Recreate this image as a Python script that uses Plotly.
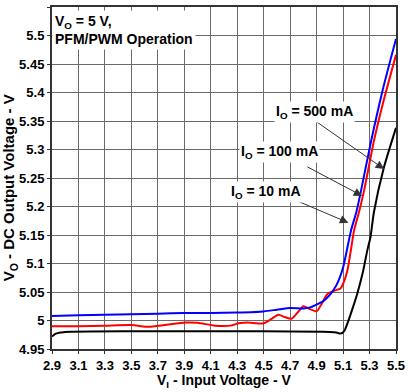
import plotly.graph_objects as go

# 10 mA (blue)
x_10 = [2.9, 3.1, 3.3, 3.5, 3.7, 3.9, 4.1, 4.3, 4.5, 4.6, 4.7, 4.8, 4.85, 4.9, 4.95, 5.0, 5.05, 5.1, 5.16, 5.2, 5.235, 5.312, 5.4, 5.5]
v_10 = [5.008, 5.009, 5.010, 5.011, 5.012, 5.013, 5.013, 5.014, 5.016, 5.019, 5.022, 5.021, 5.023, 5.028, 5.034, 5.045, 5.062, 5.093, 5.158, 5.19, 5.227, 5.315, 5.405, 5.494]

# 100 mA (red)
x_100 = [2.9, 3.1, 3.3, 3.5, 3.63, 3.75, 3.91, 4.0, 4.13, 4.25, 4.31, 4.38, 4.45, 4.5, 4.56, 4.61, 4.66, 4.71, 4.76, 4.8, 4.85, 4.9, 4.94, 4.98, 5.03, 5.08, 5.11, 5.133, 5.16, 5.183, 5.22, 5.258, 5.333, 5.4, 5.5]
v_100 = [4.990, 4.990, 4.991, 4.992, 4.989, 4.992, 4.9965, 4.996, 4.991, 4.991, 4.995, 4.9965, 4.995, 4.995, 5.003, 5.010, 5.006, 5.003, 5.015, 5.025, 5.020, 5.016, 5.030, 5.046, 5.052, 5.056, 5.070, 5.088, 5.125, 5.158, 5.19, 5.227, 5.315, 5.38, 5.466]

# 500 mA (black)
x_500 = [2.9, 2.93, 2.97, 3.0, 3.5, 4.0, 4.5, 5.0, 5.05, 5.08, 5.11, 5.133, 5.17, 5.207, 5.25, 5.283, 5.307, 5.333, 5.408, 5.5]
v_500 = [4.972, 4.977, 4.979, 4.980, 4.981, 4.981, 4.981, 4.980, 4.979, 4.977, 4.982, 4.995, 5.02, 5.047, 5.085, 5.123, 5.146, 5.19, 5.268, 5.338]

x_ticks = [2.9, 3.1, 3.3, 3.5, 3.7, 3.9, 4.1, 4.3, 4.5, 4.7, 4.9, 5.1, 5.3, 5.5]
x_tick_text = ["2.9", "3.1", "3.3", "3.5", "3.7", "3.9", "4.1", "4.3", "4.5", "4.7", "4.9", "5.1", "5.3", "5.5"]
y_ticks = [4.95, 5.0, 5.05, 5.1, 5.15, 5.2, 5.25, 5.3, 5.35, 5.4, 5.45, 5.5, 5.55]
y_tick_text = ["4.95", "5", "5.05", "5.1", "5.15", "5.2", "5.25", "5.3", "5.35", "5.4", "5.45", "5.5", "5.55"]

# annotation labels: text, arrow tip (x, y), arrow tail (x, y), label centre (x, y)
labels = [
    ("I<sub>O</sub> = 500 mA", 5.410, 5.2657, 4.894, 5.3495, 4.886, 5.366),
    ("I<sub>O</sub> = 100 mA", 5.245, 5.2186, 4.818, 5.271, 4.623, 5.296),
    ("I<sub>O</sub> = 10 mA", 5.140, 5.1715, 4.721, 5.213, 4.518, 5.226),
]

FONT = "Liberation Sans, Arial, sans-serif"

fig = go.Figure()
for xs, ys, col in [(x_500, v_500, "#000000"), (x_100, v_100, "#ff0000"), (x_10, v_10, "#0000ff")]:
    fig.add_trace(go.Scatter(x=xs, y=ys, mode="lines",
                             line=dict(color=col, width=2, shape="spline", smoothing=0.6),
                             showlegend=False, hoverinfo="skip"))

axis_common = dict(showgrid=True, gridcolor="#6a6a6a", gridwidth=1, showline=True,
                   linecolor="#333333", linewidth=2, mirror=True, ticks="outside",
                   ticklen=3, tickcolor="#333333", zeroline=False,
                   tickfont=dict(family=FONT, size=13, color="#000", weight="bold"))

fig.update_xaxes(range=[2.9, 5.5], tickmode="array", tickvals=x_ticks, ticktext=x_tick_text,
                 **axis_common)
fig.update_yaxes(range=[4.95, 5.55], tickmode="array", tickvals=y_ticks, ticktext=y_tick_text,
                 **axis_common)

ann_font = dict(family=FONT, size=14, color="#000", weight="bold")
for txt, tx, ty, ax_, ay_, lx, ly in labels:
    fig.add_annotation(x=tx, y=ty, ax=ax_, ay=ay_, axref="x", ayref="y", xref="x", yref="y",
                       text="", showarrow=True, arrowhead=2, arrowsize=1.7, arrowwidth=1,
                       arrowcolor="#333333")
    fig.add_annotation(x=lx, y=ly, xref="x", yref="y", text=txt, showarrow=False,
                       font=ann_font, bgcolor="white", borderpad=1)

fig.add_annotation(xref="paper", yref="paper", x=0.0, y=0.99, xanchor="left", yanchor="top",
                   text="V<sub>O</sub> = 5 V,<br>PFM/PWM Operation", showarrow=False, align="left",
                   font=ann_font, bgcolor="white", borderpad=2)

# axis titles
fig.add_annotation(xref="paper", yref="paper", x=0.5, y=-0.094, xanchor="center", yanchor="middle",
                   text="V<sub>I</sub> - Input Voltage - V", showarrow=False,
                   font=dict(family=FONT, size=14, color="#000", weight="bold"))
fig.add_annotation(xref="paper", yref="paper", x=-0.121, y=0.471, xanchor="center", yanchor="middle",
                   text="V<sub>O</sub> - DC Output Voltage - V", showarrow=False, textangle=-90,
                   font=dict(family=FONT, size=15, color="#000", weight="bold"))

fig.update_layout(width=410, height=392, margin=dict(l=52, r=11, t=5, b=43),
                  plot_bgcolor="white", paper_bgcolor="white")

fig.write_html("out.html", config={"displayModeBar": False},
               post_script="document.body.style.margin='0px';document.body.style.overflow='hidden';")
